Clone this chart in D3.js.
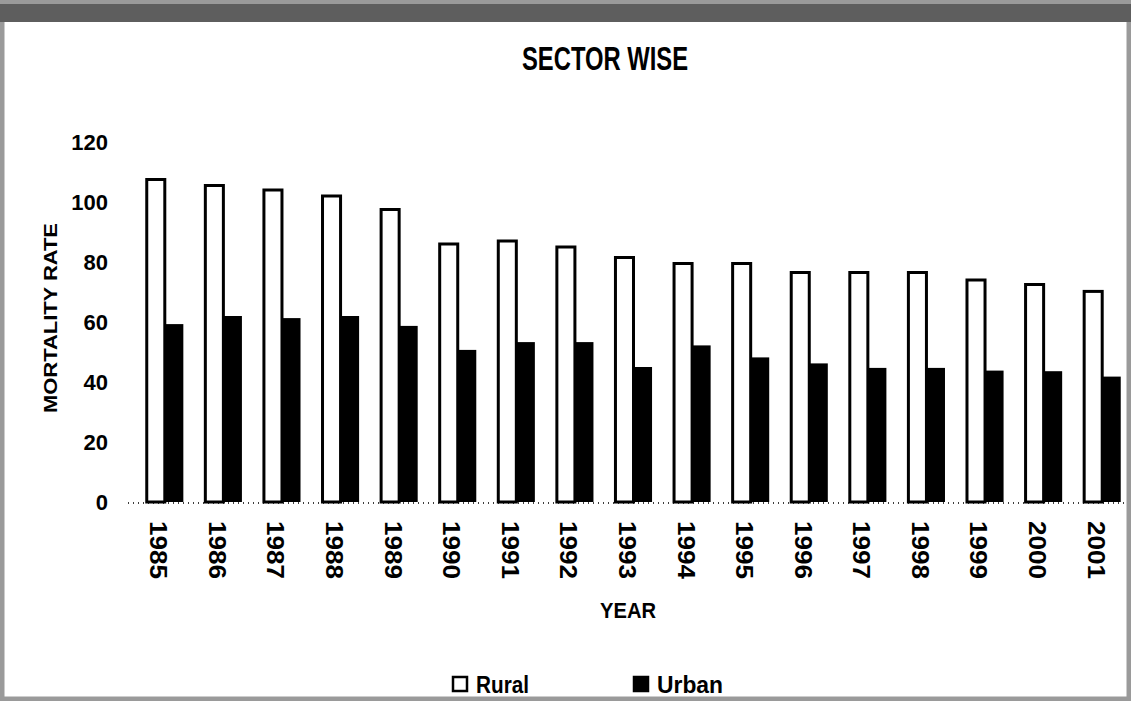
<!DOCTYPE html>
<html>
<head>
<meta charset="utf-8">
<script src="https://cdn.jsdelivr.net/npm/d3@7"></script>
<style>
  body { margin: 0; background: #fff; }
  text { font-family: "Liberation Sans", Arial, sans-serif; font-weight: bold; fill: #000; }
</style>
</head>
<body>
<div id="chart"></div>
<script>
const width = 1131, height = 701;
const margin = ({top: 142, right: 0, bottom: 199, left: 135});

// chart data
const years = ["1985","1986","1987","1988","1989","1990","1991","1992","1993","1994","1995","1996","1997","1998","1999","2000","2001"];
const rural = [108, 106, 104.5, 102.5, 98, 86.5, 87.5, 85.5, 82, 80, 80, 77, 77, 77, 74.5, 73, 70.7];
const urban = [59.3, 62, 61.3, 62, 58.7, 50.7, 53.3, 53.3, 45, 52.2, 48.2, 46.2, 44.7, 44.7, 43.8, 43.6, 41.8];
const series = ["Rural", "Urban"];
const yTicks = [0, 20, 40, 60, 80, 100, 120];

const svg = d3.select("#chart").append("svg")
  .attr("width", width).attr("height", height);

// scanned paper edge
svg.append("rect")
  .attr("x", 2).attr("y", 2).attr("width", width-4).attr("height", height-4)
  .attr("fill", "none").attr("stroke", "#9a9a9a").attr("stroke-width", 5);
svg.append("rect")
  .attr("x", 0).attr("y", 4).attr("width", width).attr("height", 18)
  .attr("fill", "#5e5e5e");

const x = d3.scaleBand()
  .domain(years)
  .range([margin.left, width - margin.right])
  .paddingInner(0.35).paddingOuter(0.175);

const x1 = d3.scaleBand()
  .domain(series)
  .range([0, x.bandwidth()]);

const y = d3.scaleLinear()
  .domain([0, 120])
  .range([height - margin.bottom, margin.top]);

// y tick labels, no axis line
const yAxis = d3.axisLeft(y).tickValues(yTicks).tickSize(0).tickPadding(0);
svg.append("g")
  .attr("transform", `translate(108,0)`)
  .call(yAxis)
  .call(g => g.select(".domain").remove())
  .call(g => g.selectAll("text")
    .attr("font-size", 22).attr("font-family", "Liberation Sans, Arial, sans-serif")
    .attr("font-weight", "bold").attr("fill", "#000"));

// dotted baseline
svg.append("line")
  .attr("x1", 128).attr("x2", width - 6)
  .attr("y1", y(0) + 1).attr("y2", y(0) + 1)
  .attr("stroke", "#000").attr("stroke-width", 1.5).attr("stroke-dasharray", "1,4");

// bars
const groups = svg.append("g").selectAll("g")
  .data(years)
  .join("g")
  .attr("transform", d => `translate(${x(d)},0)`);

groups.append("rect")
  .attr("x", x1("Rural") + 1.5)
  .attr("y", (d, i) => y(rural[i]) + 1.5)
  .attr("width", x1.bandwidth() - 1)
  .attr("height", (d, i) => y(0) - y(rural[i]) - 1.5)
  .attr("fill", "#fff").attr("stroke", "#000").attr("stroke-width", 3);

groups.append("rect")
  .attr("x", x1("Urban"))
  .attr("y", (d, i) => y(urban[i]))
  .attr("width", x1.bandwidth())
  .attr("height", (d, i) => y(0) - y(urban[i]))
  .attr("fill", "#000");

// x tick labels, rotated to read top-down
const xAxis = d3.axisBottom(x).tickSize(0).tickPadding(0);
svg.append("g")
  .attr("transform", `translate(-6,${y(0) + 19})`)
  .call(xAxis)
  .call(g => g.select(".domain").remove())
  .call(g => g.selectAll("text")
    .attr("transform", "rotate(90)")
    .attr("text-anchor", "start")
    .attr("dy", "0.35em").attr("y", 0).attr("x", 0)
    .attr("font-size", 23).attr("font-family", "Liberation Sans, Arial, sans-serif")
    .attr("textLength", 58).attr("lengthAdjust", "spacingAndGlyphs")
    .attr("font-weight", "bold").attr("fill", "#000"));

// title
svg.append("text")
  .attr("x", 522).attr("y", 70)
  .attr("font-size", 33)
  .attr("textLength", 166).attr("lengthAdjust", "spacingAndGlyphs")
  .text("SECTOR WISE");

// axis labels
svg.append("text")
  .attr("x", 600).attr("y", 618)
  .attr("font-size", 22)
  .attr("textLength", 56).attr("lengthAdjust", "spacingAndGlyphs")
  .text("YEAR");

svg.append("text")
  .attr("transform", "translate(57,413) rotate(-90)")
  .attr("font-size", 19)
  .attr("textLength", 190).attr("lengthAdjust", "spacingAndGlyphs")
  .text("MORTALITY RATE");

// legend
const legend = svg.append("g").selectAll("g")
  .data(series)
  .join("g")
  .attr("transform", (d, i) => `translate(${[452, 633][i]},676)`);

legend.append("rect")
  .attr("x", 1).attr("y", 1).attr("width", 14).attr("height", 14)
  .attr("fill", d => d === "Rural" ? "#fff" : "#000")
  .attr("stroke", "#000").attr("stroke-width", 2.5);

legend.append("text")
  .attr("x", 24).attr("y", 17)
  .attr("font-size", 24)
  .attr("textLength", d => d === "Rural" ? 53 : 66).attr("lengthAdjust", "spacingAndGlyphs")
  .text(d => d);
</script>
</body>
</html>
